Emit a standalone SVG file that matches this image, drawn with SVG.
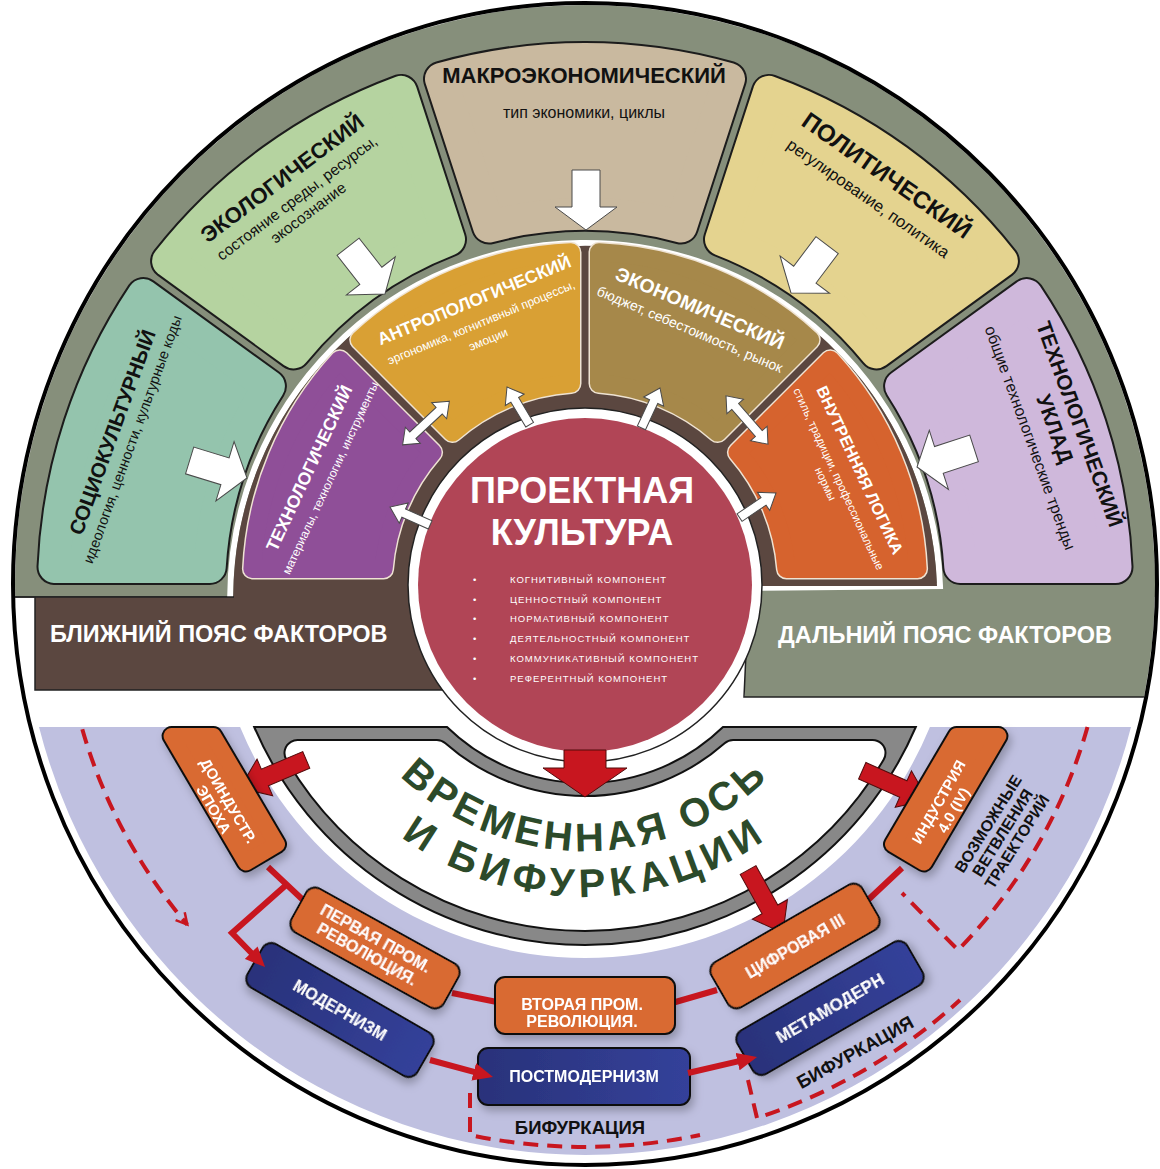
<svg xmlns="http://www.w3.org/2000/svg" width="1160" height="1169" viewBox="0 0 1160 1169">
<defs>
<style>
text{font-family:"Liberation Sans",Arial,sans-serif}
.b{font-weight:bold}
.w{fill:#fff}
.k{fill:#111}
.m{text-anchor:middle}
.edge{fill:#1c1c1c;stroke:#1c1c1c;stroke-width:36;stroke-linejoin:round}
.tf{stroke-width:32;stroke-linejoin:round}
.iedge{fill:#efe3d3;stroke:#efe3d3;stroke-width:21;stroke-linejoin:round}
.itf{stroke-width:18;stroke-linejoin:round}
.wa{fill:#fff;stroke:#4a4a4a;stroke-width:1}
.ra{fill:#c8161f;stroke:#520b0b;stroke-width:1}
.ln{fill:none;stroke:#c8161f;stroke-width:6}
.dash{fill:none;stroke:#c8161f;stroke-width:4;stroke-dasharray:15 9}
.ob{fill:#d96a32;stroke:#111;stroke-width:2}
.nb{fill:url(#navy);stroke:#111;stroke-width:2}
.bedge{fill:#111;stroke:#111;stroke-width:20;stroke-linejoin:round}
.bfill{fill:#d96a32;stroke:#d96a32;stroke-width:16;stroke-linejoin:round}
</style>
<clipPath id="disk"><ellipse cx="585" cy="584" rx="570" ry="579"/></clipPath>
<linearGradient id="navy" x1="0" y1="0" x2="1" y2="0">
<stop offset="0" stop-color="#29327a"/><stop offset="1" stop-color="#34419a"/>
</linearGradient>
<filter id="sh" x="-20%" y="-40%" width="140%" height="180%">
<feDropShadow dx="3" dy="5" stdDeviation="4" flood-color="#000" flood-opacity="0.25"/>
</filter>
<marker id="ah" markerUnits="userSpaceOnUse" viewBox="0 0 20 18" markerWidth="20" markerHeight="18" refX="6" refY="9" orient="auto">
<path d="M0 0 L20 9 L0 18 Z" fill="#c8161f"/>
</marker>
<marker id="dh" markerUnits="userSpaceOnUse" viewBox="0 0 16 16" markerWidth="16" markerHeight="16" refX="13" refY="8" orient="auto">
<path d="M2 2 L13 8 L2 14" fill="none" stroke="#c8161f" stroke-width="2.5"/>
</marker>
<!-- tile cores: outer ring (centre 585,590) -->
<path id="c-socio" d="M143.3 295.1 A531 531 0 0 0 54.5 567 L209.7 567 A376 376 0 0 1 268.9 386.3 Z"/>
<path id="c-eco" d="M401 91.9 A531 531 0 0 0 168.1 261.1 L293.6 352.4 A376 376 0 0 1 449 239.5 Z"/>
<path id="c-macro" d="M729 78.9 A531 531 0 0 0 441 78.9 L489 226.5 A376 376 0 0 1 681 226.5 Z"/>
<path id="c-pol" d="M1001.9 261.1 A531 531 0 0 0 769 91.9 L721 239.5 A376 376 0 0 1 876.4 352.4 Z"/>
<path id="c-ukl" d="M1115.5 567 A531 531 0 0 0 1026.7 295.1 L901.1 386.3 A376 376 0 0 1 960.3 567 Z"/>
<!-- tile cores: inner ring (centre 585,585) -->
<path id="c-tech" d="M339.8 359.7 A333 333 0 0 0 252.4 569 L383.6 569 A202 202 0 0 1 432.6 452.4 Z"/>
<path id="c-anth" d="M571 252.3 A333 333 0 0 0 359.7 339.8 L452.4 432.6 A202 202 0 0 1 571 383.5 Z"/>
<path id="c-econ" d="M810.3 339.8 A333 333 0 0 0 599 252.3 L599 383.5 A202 202 0 0 1 717.6 432.6 Z"/>
<path id="c-logic" d="M917.6 569 A333 333 0 0 0 830.2 359.7 L737.4 452.4 A202 202 0 0 1 786.4 569 Z"/>
<!-- arrows -->
<path id="arw-big" d="M0 0 L-23 -31 L-23 -14 L-60 -14 L-60 14 L-23 14 L-23 31 Z"/>
<path id="arw-s" d="M0 0 L-15 -11 L-15 -4.5 L-44 -4.5 L-44 4.5 L-15 4.5 L-15 11 Z"/>
<path id="arw-d" d="M32 0 L18 -11 L18 -4.5 L-18 -4.5 L-18 -11 L-32 0 L-18 11 L-18 4.5 L18 4.5 L18 11 Z"/>
<path id="arw-red" d="M0 0 L-27 -20 L-27 -9 L-72 -9 L-72 9 L-27 9 L-27 20 Z"/>
<!-- title baselines -->
<path id="arc1" d="M354.6 718 A266 266 0 0 0 815.4 718"/>
<path id="arc2" d="M314.8 741 A312 312 0 0 0 855.2 741"/>
</defs>

<!-- base disc -->
<ellipse cx="585" cy="584" rx="572" ry="581" fill="#fff"/>

<!-- far belt background -->
<g id="far-belt">
<g clip-path="url(#disk)" fill="#868f7b">
<rect x="0" y="0" width="1160" height="597"/>
<rect x="745" y="560" width="420" height="137"/>
</g>
<g clip-path="url(#disk)" fill="none" stroke="#222" stroke-width="1.5">
<path d="M0 597 L240 597"/>
<path d="M749 588 L744 697 L1160 697"/>
</g>
</g>

<!-- lower band -->
<path id="time-band" d="M39 727 A564 571 0 0 0 1131 727 L929.9 727 A373 373 0 0 1 240.1 727 Z" fill="#bfc0e0"/>

<!-- outer factors -->
<g id="socio">
<use href="#c-socio" class="edge"/><use href="#c-socio" class="tf" fill="#94c4ad" stroke="#94c4ad"/>
<g transform="translate(112,432) rotate(-70)">
<text class="b k m" font-size="20.5" y="7.4">СОЦИОКУЛЬТУРНЫЙ</text>
<text class="k m" font-size="14.5" y="26.8">идеология, ценности, культурные коды</text>
</g>
</g>
<g id="eco">
<use href="#c-eco" class="edge"/><use href="#c-eco" class="tf" fill="#b5d3a0" stroke="#b5d3a0"/>
<g transform="translate(282,178) rotate(-37)">
<text class="b k m" font-size="22" y="7.9">ЭКОЛОГИЧЕСКИЙ</text>
<text class="k m" font-size="15.5" y="30.2">состояние среды, ресурсы,</text>
<text class="k m" font-size="15.5" y="48.8">экосознание</text>
</g>
</g>
<g id="macro">
<use href="#c-macro" class="edge"/><use href="#c-macro" class="tf" fill="#c9b99f" stroke="#c9b99f"/>
<text class="b k m" font-size="22" x="584" y="83">МАКРОЭКОНОМИЧЕСКИЙ</text>
<text class="k m" font-size="16" x="584" y="118">тип экономики, циклы</text>
</g>
<g id="political">
<use href="#c-pol" class="edge"/><use href="#c-pol" class="tf" fill="#e4d38f" stroke="#e4d38f"/>
<g transform="translate(887,175) rotate(35)">
<text class="b k m" font-size="24" y="8.6">ПОЛИТИЧЕСКИЙ</text>
<text class="k m" font-size="16.5" x="-2" y="35.6">регулирование, политика</text>
</g>
</g>
<g id="tech-order">
<use href="#c-ukl" class="edge"/><use href="#c-ukl" class="tf" fill="#cfb8db" stroke="#cfb8db"/>
<g transform="translate(1080,424) rotate(70)">
<text class="b k m" font-size="21" y="7.5">ТЕХНОЛОГИЧЕСКИЙ</text>
<text class="b k m" font-size="21" x="-4" y="32.4">УКЛАД</text>
<text class="k m" font-size="16" x="-4" y="57">общие технологические тренды</text>
</g>
</g>

<!-- near belt -->
<g id="near-belt">
<path d="M230.2 597 A355 355 0 0 1 940 586 L745 588" fill="none" stroke="#fff" stroke-width="6"/>
<path d="M35 597 L233.2 597 A352 352 0 0 1 937 586 L585 586 L585 690 L35 690 Z" fill="#5b4740"/>
<path d="M14 597 L234 597 M35 597 L35 690 L450 690" fill="none" stroke="#222" stroke-width="1.5"/>
<text class="b w" font-size="23.5" x="50" y="642">БЛИЖНИЙ ПОЯС ФАКТОРОВ</text>
</g>
<text class="b w" font-size="23.5" x="778" y="643">ДАЛЬНИЙ ПОЯС ФАКТОРОВ</text>

<!-- inflow arrows from outer factors -->
<g id="outer-arrows" class="wa">
<use href="#arw-big" transform="translate(247,478) rotate(17)"/>
<use href="#arw-big" transform="translate(385,294) rotate(52)"/>
<use href="#arw-big" transform="translate(586,230) rotate(90)"/>
<use href="#arw-big" transform="translate(791,293) rotate(127)"/>
<use href="#arw-big" transform="translate(917,467) rotate(162)"/>
</g>

<!-- inner factors -->
<g id="tech">
<use href="#c-tech" class="iedge"/><use href="#c-tech" class="itf" fill="#8f4f98" stroke="#8f4f98"/>
<g transform="translate(309,468) rotate(-65)">
<text class="b w m" font-size="17.5" y="6.3">ТЕХНОЛОГИЧЕСКИЙ</text>
<text class="w m" font-size="12" y="27.7">материалы, технологии, инструменты</text>
</g>
</g>
<g id="anthro">
<use href="#c-anth" class="iedge"/><use href="#c-anth" class="itf" fill="#d9a034" stroke="#d9a034"/>
<g transform="translate(474,300) rotate(-22.5)">
<text class="b w m" font-size="17.5" y="6.3">АНТРОПОЛОГИЧЕСКИЙ</text>
<text class="w m" font-size="12" x="-2" y="27.6">эргономика, когнитивный процессы,</text>
<text class="w m" font-size="12" x="-2" y="45.9">эмоции</text>
</g>
</g>
<g id="econ">
<use href="#c-econ" class="iedge"/><use href="#c-econ" class="itf" fill="#a6884a" stroke="#a6884a"/>
<g transform="translate(700,308) rotate(23)">
<text class="b w m" font-size="19.5" y="7">ЭКОНОМИЧЕСКИЙ</text>
<text class="w m" font-size="14" x="-1" y="28.4">бюджет, себестоимость, рынок</text>
</g>
</g>
<g id="inner-logic">
<use href="#c-logic" class="iedge"/><use href="#c-logic" class="itf" fill="#d6632e" stroke="#d6632e"/>
<g transform="translate(860,470) rotate(65)">
<text class="b w m" font-size="16.3" y="5.9">ВНУТРЕННЯЯ ЛОГИКА</text>
<text class="w m" font-size="11.5" x="-1" y="27.1">стиль, традиции, профессиональные</text>
<text class="w m" font-size="11.5" x="-2" y="41.1">нормы</text>
</g>
</g>

<!-- time axis frame -->
<g id="time-frame">
<path d="M254.2 727 L447 727 A198 198 0 0 0 723 727 L915.8 727 A360 360 0 0 1 254.2 727 Z" fill="#888" stroke="#111" stroke-width="2"/>
<path d="M297.5 753 L436.8 753 A224 224 0 0 0 733.2 753 L872.5 753 A333 333 0 0 1 297.5 753 Z" fill="#111" stroke="#111" stroke-width="28" stroke-linejoin="round"/>
<path d="M297.5 753 L436.8 753 A224 224 0 0 0 733.2 753 L872.5 753 A333 333 0 0 1 297.5 753 Z" fill="#fff" stroke="#fff" stroke-width="24" stroke-linejoin="round"/>
</g>

<!-- core -->
<g id="project-culture">
<circle cx="585" cy="585" r="177" fill="#fff" stroke="#222" stroke-width="1.5"/>
<circle cx="585" cy="585" r="167" fill="#b14556"/>
<text class="b w m" font-size="36" x="582" y="503">ПРОЕКТНАЯ</text>
<text class="b w m" font-size="36" x="582" y="545">КУЛЬТУРА</text>
<g class="w" font-size="9.5" letter-spacing="1">
<text x="473" y="583">•</text><text x="510" y="583">КОГНИТИВНЫЙ КОМПОНЕНТ</text>
<text x="473" y="603">•</text><text x="510" y="603">ЦЕННОСТНЫЙ КОМПОНЕНТ</text>
<text x="473" y="622">•</text><text x="510" y="622">НОРМАТИВНЫЙ КОМПОНЕНТ</text>
<text x="473" y="642">•</text><text x="510" y="642">ДЕЯТЕЛЬНОСТНЫЙ КОМПОНЕНТ</text>
<text x="473" y="662">•</text><text x="510" y="662">КОММУНИКАТИВНЫЙ КОМПОНЕНТ</text>
<text x="473" y="682">•</text><text x="510" y="682">РЕФЕРЕНТНЫЙ КОМПОНЕНТ</text>
</g>
</g>

<!-- connectors -->
<g id="connectors">
<g class="wa">
<use href="#arw-s" transform="translate(390,507) rotate(204)"/>
<use href="#arw-s" transform="translate(507,387) rotate(239)"/>
<use href="#arw-s" transform="translate(660,388) rotate(295)"/>
<use href="#arw-s" transform="translate(776,493) rotate(326)"/>
<use href="#arw-d" transform="translate(426,423) rotate(-43)"/>
<use href="#arw-d" transform="translate(747,420) rotate(49)"/>
</g>
<path class="ra" d="M585 797 L543 768 L564 768 L564 750 L606 750 L606 768 L627 768 Z"/>
<use class="ra" href="#arw-red" transform="translate(240,788) rotate(157)"/>
<use class="ra" href="#arw-red" transform="translate(928,800) rotate(24)"/>
<use class="ra" href="#arw-red" transform="translate(783,933) rotate(61)"/>
<path class="ln" d="M268 867 L303 900 M452 993 L497 1002 M672 1003 L717 990 M868 900 L902 868"/>
<path class="dash" d="M82.3 729.2 A523 523 0 0 0 187.3 924.6" marker-end="url(#dh)"/>
<path class="dash" d="M1087.5 727 A522 522 0 0 1 958 950 L902 893"/>
<path class="dash" d="M470 1093 L470 1135 A562 562 0 0 0 700 1135"/>
<path class="dash" d="M748 1080 L757 1118 A560 560 0 0 0 960 1000"/>
</g>

<!-- axis title -->
<g id="axis-title" class="b" fill="#2c4a2a" font-size="40">
<text letter-spacing="4"><textPath href="#arc1" startOffset="50%" text-anchor="middle">ВРЕМЕННАЯ ОСЬ</textPath></text>
<text letter-spacing="6"><textPath href="#arc2" startOffset="50%" text-anchor="middle">И БИФУРКАЦИИ</textPath></text>
</g>

<!-- epochs -->
<g id="pre-industrial" filter="url(#sh)">
<path class="bedge" d="M171.6 736 L213.3 736 L277 844.2 L246 862.5 Z"/>
<path class="bfill" d="M171.6 736 L213.3 736 L277 844.2 L246 862.5 Z"/>
<g transform="translate(221,805) rotate(59.5)">
<text class="b w m" font-size="15" y="-3.2">ДОИНДУСТР.</text>
<text class="b w m" font-size="15" y="13.8">ЭПОХА</text>
</g>
</g>
<g id="first-rev" filter="url(#sh)" transform="translate(375,948) rotate(29)">
<rect class="ob" x="-87" y="-25" width="174" height="50" rx="10"/>
<text class="b w m" font-size="16" x="-4" y="-3.3">ПЕРВАЯ ПРОМ.</text>
<text class="b w m" font-size="16" x="-4" y="14.7">РЕВОЛЮЦИЯ.</text>
</g>
<g id="second-rev" filter="url(#sh)">
<rect class="ob" x="495" y="977" width="180" height="57" rx="10"/>
<text class="b w m" font-size="16" x="582" y="1010">ВТОРАЯ ПРОМ.</text>
<text class="b w m" font-size="16" x="582" y="1027">РЕВОЛЮЦИЯ.</text>
</g>
<g id="digital" filter="url(#sh)" transform="translate(795,946) rotate(-30)">
<rect class="ob" x="-87" y="-26" width="174" height="52" rx="10"/>
<text class="b w m" font-size="16" y="6">ЦИФРОВАЯ III</text>
</g>
<g id="industry4" filter="url(#sh)">
<path class="bedge" d="M998.4 736 L956.7 736 L893 844.2 L924 862.5 Z"/>
<path class="bfill" d="M998.4 736 L956.7 736 L893 844.2 L924 862.5 Z"/>
<g transform="translate(946,806) rotate(-60.5)">
<text class="b w m" font-size="15" y="-3.2">ИНДУСТРИЯ</text>
<text class="b w m" font-size="15" y="13.8">4.0 (IV)</text>
</g>
</g>
<g id="modernism" filter="url(#sh)" transform="translate(340,1010) rotate(30)">
<rect class="nb" x="-98" y="-25" width="196" height="50" rx="10"/>
<text class="b w m" font-size="16" y="6">МОДЕРНИЗМ</text>
</g>
<g id="postmodernism" filter="url(#sh)">
<rect class="nb" x="478" y="1048" width="212" height="57" rx="10"/>
<text class="b w m" font-size="16" x="584" y="1082">ПОСТМОДЕРНИЗМ</text>
</g>
<g id="metamodern" filter="url(#sh)" transform="translate(830,1008) rotate(-30)">
<rect class="nb" x="-98" y="-25" width="196" height="50" rx="10"/>
<text class="b w m" font-size="17" y="6">МЕТАМОДЕРН</text>
</g>

<!-- arrowed links -->
<g id="links" class="ln" marker-end="url(#ah)">
<path d="M285 886 L232 933 L255.3 957" stroke-linejoin="miter"/>
<path d="M430 1060 L479.5 1073.4"/>
<path d="M688 1073 L743.4 1060.2"/>
</g>

<!-- annotations -->
<text class="b k m" font-size="18.5" x="580" y="1134">БИФУРКАЦИЯ</text>
<text class="b k m" font-size="18.5" transform="translate(855,1052) rotate(-29)" y="6.6">БИФУРКАЦИЯ</text>
<g transform="translate(1003,833) rotate(-58)" class="b k m" font-size="16">
<text y="-12">ВОЗМОЖНЫЕ</text>
<text y="5">ВЕТВЛЕНИЯ</text>
<text y="22">ТРАЕКТОРИЙ</text>
</g>

<!-- rim -->
<ellipse cx="585" cy="584" rx="572" ry="581" fill="none" stroke="#000" stroke-width="4"/>
</svg>
